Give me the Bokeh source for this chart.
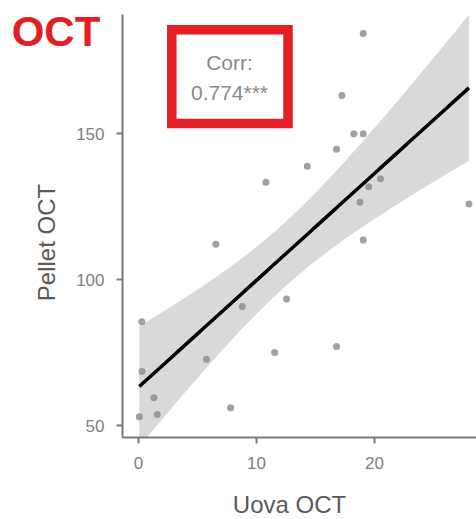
import numpy as np
from bokeh.plotting import figure
from bokeh.models import Range1d, FixedTicker, Label, BoxAnnotation
from bokeh.embed import file_html
from bokeh.resources import INLINE

# OCT levels: eggs (x) against pellet (y)
uova_oct = [19.04, 17.23, 18.25, 19.04, 16.78, 14.3, 10.79, 20.5, 19.5, 18.76,
            28.0, 6.55, 19.04, 0.28, 8.79, 12.54, 5.76, 11.53, 16.78, 0.28,
            1.30, 0.06, 1.58, 7.8]
pellet_oct = [184.3, 163.0, 149.9, 149.9, 144.6, 138.8, 133.3, 134.5, 131.8, 126.5,
              125.9, 112.1, 113.5, 85.5, 90.75, 93.3, 72.7, 75.0, 77.05, 68.5,
              59.5, 53.0, 53.8, 56.1]
x_ticks = [0, 10, 20]
y_ticks = [50, 100, 150]
panel_title = "OCT"
x_label = "Uova OCT"
y_label = "Pellet OCT"
corr_header = "Corr:"
corr_value = "0.774***"

FONT = "Liberation Sans"
RED = "#E31E24"
LABEL_GREY = "#5a5a5a"

# data panel limits (axes sit on these); the canvas extends beyond them
PANEL_X = (-1.36, 28.64)
PANEL_Y = (45.9, 190.8)

# least-squares fit with 95% confidence band
x = np.array(uova_oct)
y = np.array(pellet_oct)
n = len(x)
slope, intercept = np.polyfit(x, y, 1)
xs = np.linspace(x.min(), x.max(), 120)
fit = intercept + slope * xs
resid = y - (intercept + slope * x)
s = np.sqrt((resid ** 2).sum() / (n - 2))
sxx = ((x - x.mean()) ** 2).sum()
se = s * np.sqrt(1.0 / n + (xs - x.mean()) ** 2 / sxx)
T975 = 2.074  # Student t quantile, 22 degrees of freedom
lower = np.clip(fit - T975 * se, PANEL_Y[0], PANEL_Y[1])
upper = np.clip(fit + T975 * se, PANEL_Y[0], PANEL_Y[1])

# the frame fills the whole canvas; axes are pinned to the panel edges
p = figure(width=476, height=519,
           x_range=Range1d(-11.70, 28.64), y_range=Range1d(17.82, 195.56),
           output_backend="svg", toolbar_location=None,
           min_border_left=0, min_border_right=0,
           min_border_top=0, min_border_bottom=0)
p.outline_line_color = None
p.grid.visible = False
p.background_fill_color = "white"
p.border_fill_color = "white"

p.varea(x=xs, y1=lower, y2=upper, fill_color="#d9d9d9")
p.line(xs, fit, line_color="black", line_width=3.5)
p.scatter(x, y, size=7, fill_color="#8a8a8a", line_color=None, alpha=0.8)

p.xaxis.fixed_location = PANEL_Y[0]
p.yaxis.fixed_location = PANEL_X[0]
p.xaxis.bounds = PANEL_X
p.yaxis.bounds = PANEL_Y
p.xaxis.ticker = FixedTicker(ticks=x_ticks)
p.yaxis.ticker = FixedTicker(ticks=y_ticks)
for ax in (p.xaxis[0], p.yaxis[0]):
    ax.axis_line_color = "#7a7a7a"
    ax.axis_line_width = 2
    ax.major_tick_line_color = "#7a7a7a"
    ax.major_tick_line_width = 2
    ax.major_tick_out = 6
    ax.major_tick_in = 0
    ax.minor_tick_line_color = None
    ax.major_label_text_font = FONT
    ax.major_label_text_font_size = "17px"
    ax.major_label_text_color = "#808080"
p.xaxis.major_label_standoff = 13
p.yaxis.major_label_standoff = 12

# axis titles, placed under / beside the data panel (screen units, origin bottom-left)
p.add_layout(Label(x=289, y=15, x_units="screen", y_units="screen",
                   text=x_label, text_font=FONT, text_font_size="24px",
                   text_color=LABEL_GREY, text_align="center",
                   text_baseline="alphabetic"))
p.add_layout(Label(x=46, y=277, x_units="screen", y_units="screen",
                   text=y_label, text_font=FONT, text_font_size="24px",
                   text_color=LABEL_GREY, text_align="center",
                   text_baseline="middle", angle=np.pi / 2))

# panel title and correlation box
p.add_layout(Label(x=55.5, y=488, x_units="screen", y_units="screen",
                   text=panel_title, text_font=FONT, text_font_size="42px",
                   text_font_style="bold", text_color=RED,
                   text_align="center", text_baseline="alphabetic"))
p.add_layout(BoxAnnotation(left=171.3, right=287.5, top=489.8, bottom=396,
                           left_units="screen", right_units="screen",
                           top_units="screen", bottom_units="screen",
                           fill_color=None, line_color=RED, line_alpha=1.0,
                           line_width=9.5, line_join="miter"))
p.add_layout(Label(x=229, y=457, x_units="screen", y_units="screen",
                   text=corr_header, text_font=FONT, text_font_size="21px",
                   text_color="#8a8a8a", text_align="center",
                   text_baseline="alphabetic"))
p.add_layout(Label(x=229, y=427, x_units="screen", y_units="screen",
                   text=corr_value, text_font=FONT, text_font_size="21px",
                   text_color="#8a8a8a", text_align="center",
                   text_baseline="alphabetic"))

open("out.html", "w").write(file_html(p, INLINE))
